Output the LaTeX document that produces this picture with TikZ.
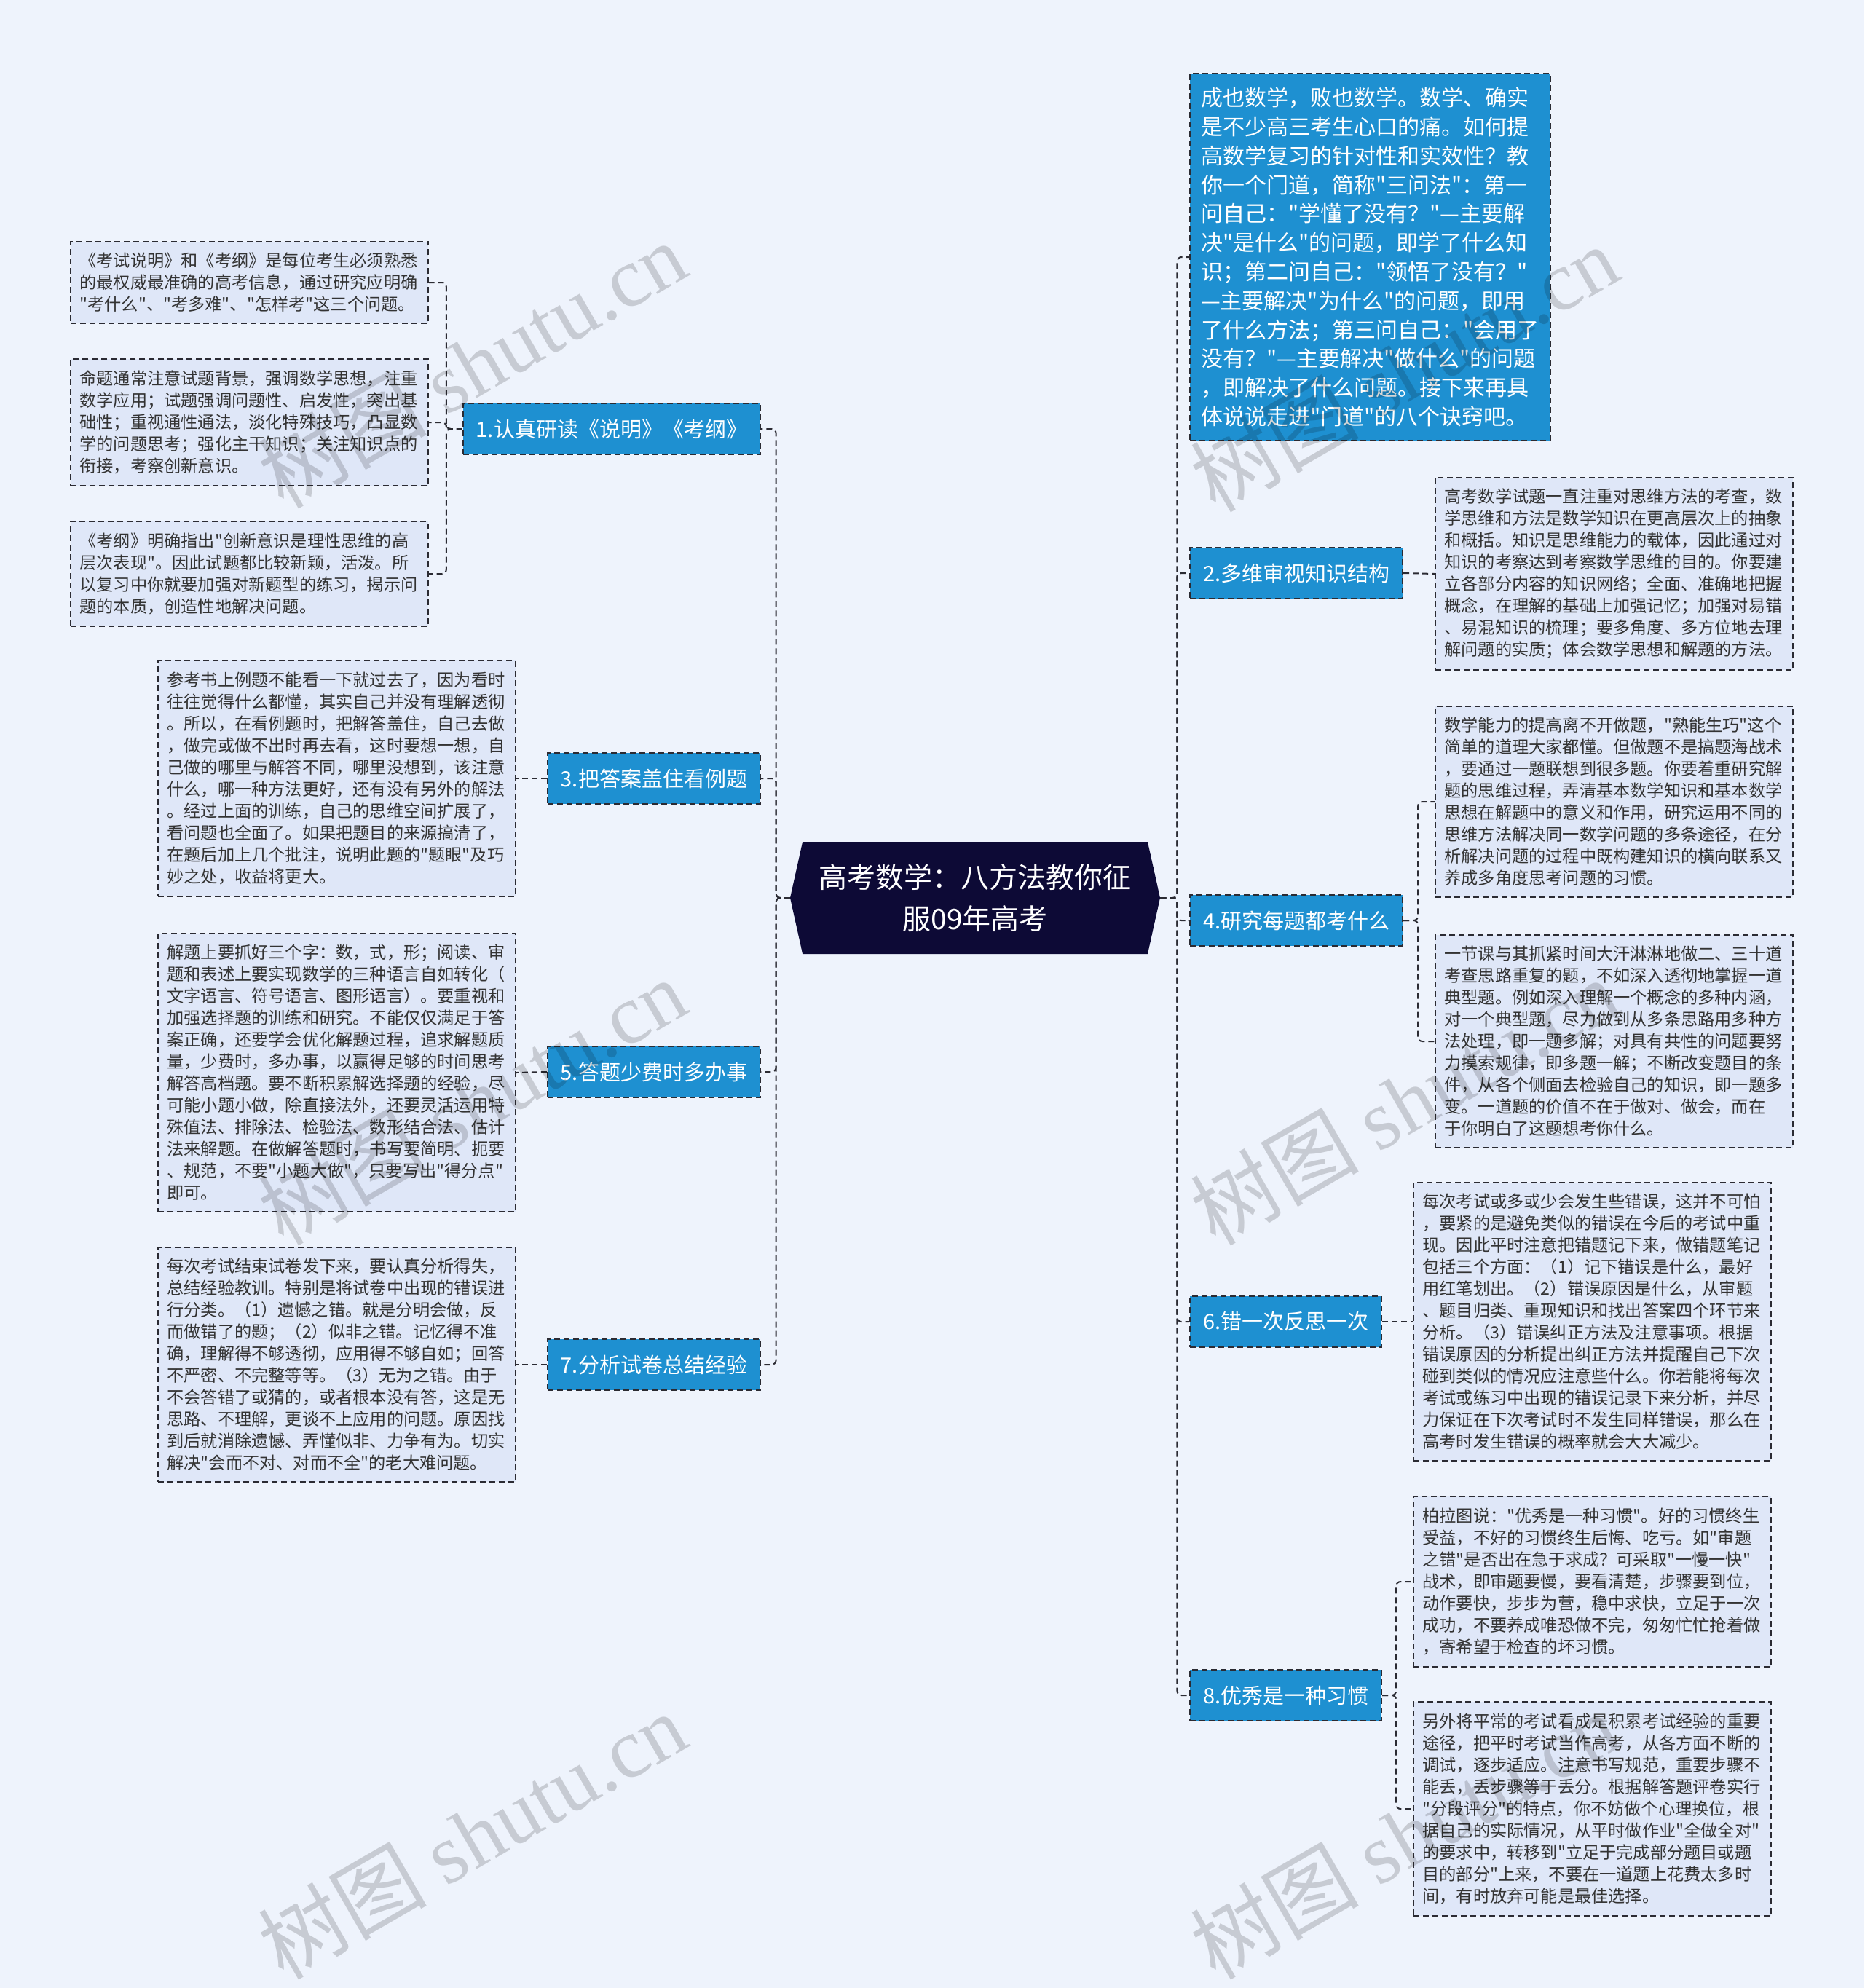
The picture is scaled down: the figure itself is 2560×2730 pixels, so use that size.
\documentclass[tikz,border=0pt]{standalone}
\usepackage{fontspec}
\newfontfamily\cjkfont{Noto Sans CJK SC}
\newfontfamily\wmlatin{Liberation Serif}
\usetikzlibrary{shapes.symbols}
\definecolor{bgpage}{HTML}{EEF3FC}
\definecolor{leaffill}{HTML}{DFE7F8}
\definecolor{branchblue}{HTML}{1E90D1}
\definecolor{rootnavy}{HTML}{0D0A36}
\definecolor{edgegray}{HTML}{2B2B33}

\begin{document}
\begin{tikzpicture}[x=0.5pt,y=-0.5pt,
		dashbox/.style={draw=edgegray,line width=1pt,dash pattern=on 4pt off 2.5pt},
		leaf/.style={dashbox,fill=leaffill,text=black!80,text width=233pt,inner xsep=6.25pt,inner ysep=7.75pt,align=left,font=\cjkfont\fontsize{11.6}{15}\selectfont},
		intro/.style={dashbox,fill=branchblue,text=white,text width=232.5pt,inner xsep=7.5pt,inner ysep=9.5pt,align=left,font=\cjkfont\fontsize{15}{19.9}\selectfont},
		branch/.style={dashbox,fill=branchblue,text=white,minimum height=35pt,inner xsep=9pt,inner ysep=0pt,font=\cjkfont\fontsize{14.5}{17}\selectfont},
		rootbox/.style={signal,signal to=east and west,signal pointer angle=155,fill=rootnavy,text=white,minimum width=254pt,minimum height=77pt,inner sep=0pt,align=center,font=\cjkfont\fontsize{19.5}{28.4}\selectfont},
		link/.style={draw=edgegray,line width=1pt,dash pattern=on 4pt off 2.5pt,rounded corners=3pt},
		wmtext/.style={rotate=30,text=black,opacity=0.16,font=\cjkfont\fontsize{58}{58}\selectfont}]
		\fill[bgpage] (0,0) rectangle (2560,2730);
		\useasboundingbox (0,0) rectangle (2560,2730);

		\node[rootbox] (root) at (1339,1233) {高考数学：八方法教你征\\服09年高考};

		\node[branch,anchor=east] (b1) at (1045,589) {1.认真研读《说明》《考纲》};
		\node[branch,anchor=east] (b3) at (1045,1069) {3.把答案盖住看例题};
		\node[branch,anchor=east] (b5) at (1045,1472) {5.答题少费时多办事};
		\node[branch,anchor=east] (b7) at (1045,1874) {7.分析试卷总结经验};

		\node[intro,anchor=west] (intro) at (1633,353) {成也数学，败也数学。数学、确实\\是不少高三考生心口的痛。如何提\\高数学复习的针对性和实效性？教\\你一个门道，简称"三问法"：第一\\问自己："学懂了没有？"—主要解\\决"是什么"的问题，即学了什么知\\识；第二问自己："领悟了没有？"\\—主要解决"为什么"的问题，即用\\了什么方法；第三问自己："会用了\\没有？"—主要解决"做什么"的问题\\，即解决了什么问题。接下来再具\\体说说走进"门道"的八个诀窍吧。};
		\node[branch,anchor=west] (b2) at (1633,787) {2.多维审视知识结构};
		\node[branch,anchor=west] (b4) at (1633,1264) {4.研究每题都考什么};
		\node[branch,anchor=west] (b6) at (1633,1815) {6.错一次反思一次};
		\node[branch,anchor=west] (b8) at (1633,2328) {8.优秀是一种习惯};

		\node[leaf,anchor=east] (l1a) at (589,388) {《考试说明》和《考纲》是每位考生必须熟悉\\的最权威最准确的高考信息，通过研究应明确\\"考什么"、"考多难"、"怎样考"这三个问题。};
		\node[leaf,anchor=east] (l1b) at (589,580) {命题通常注意试题背景，强调数学思想，注重\\数学应用；试题强调问题性、启发性，突出基\\础性；重视通性通法，淡化特殊技巧，凸显数\\学的问题思考；强化主干知识；关注知识点的\\衔接，考察创新意识。};
		\node[leaf,anchor=east] (l1c) at (589,788) {《考纲》明确指出"创新意识是理性思维的高\\层次表现"。因此试题都比较新颖，活泼。所\\以复习中你就要加强对新题型的练习，揭示问\\题的本质，创造性地解决问题。};
		\node[leaf,anchor=east] (l3) at (709,1069) {参考书上例题不能看一下就过去了，因为看时\\往往觉得什么都懂，其实自己并没有理解透彻\\。所以，在看例题时，把解答盖住，自己去做\\，做完或做不出时再去看，这时要想一想，自\\己做的哪里与解答不同，哪里没想到，该注意\\什么，哪一种方法更好，还有没有另外的解法\\。经过上面的训练，自己的思维空间扩展了，\\看问题也全面了。如果把题目的来源搞清了，\\在题后加上几个批注，说明此题的"题眼"及巧\\妙之处，收益将更大。};
		\node[leaf,anchor=east] (l5) at (709,1473) {解题上要抓好三个字：数，式，形；阅读、审\\题和表述上要实现数学的三种语言自如转化（\\文字语言、符号语言、图形语言）。要重视和\\加强选择题的训练和研究。不能仅仅满足于答\\案正确，还要学会优化解题过程，追求解题质\\量，少费时，多办事，以赢得足够的时间思考\\解答高档题。要不断积累解选择题的经验，尽\\可能小题小做，除直接法外，还要灵活运用特\\殊值法、排除法、检验法、数形结合法、估计\\法来解题。在做解答题时，书写要简明、扼要\\、规范，不要"小题大做"，只要写出"得分点"\\即可。};
		\node[leaf,anchor=east] (l7) at (709,1874) {每次考试结束试卷发下来，要认真分析得失，\\总结经验教训。特别是将试卷中出现的错误进\\行分类。（1）遗憾之错。就是分明会做，反\\而做错了的题；（2）似非之错。记忆得不准\\确，理解得不够透彻，应用得不够自如；回答\\不严密、不完整等等。（3）无为之错。由于\\不会答错了或猜的，或者根本没有答，这是无\\思路、不理解，更谈不上应用的问题。原因找\\到后就消除遗憾、弄懂似非、力争有为。切实\\解决"会而不对、对而不全"的老大难问题。};

		\node[leaf,anchor=west] (r2) at (1970,788) {高考数学试题一直注重对思维方法的考查，数\\学思维和方法是数学知识在更高层次上的抽象\\和概括。知识是思维能力的载体，因此通过对\\知识的考察达到考察数学思维的目的。你要建\\立各部分内容的知识网络；全面、准确地把握\\概念，在理解的基础上加强记忆；加强对易错\\、易混知识的梳理；要多角度、多方位地去理\\解问题的实质；体会数学思想和解题的方法。};
		\node[leaf,anchor=west] (r4a) at (1970,1101) {数学能力的提高离不开做题，"熟能生巧"这个\\简单的道理大家都懂。但做题不是搞题海战术\\，要通过一题联想到很多题。你要着重研究解\\题的思维过程，弄清基本数学知识和基本数学\\思想在解题中的意义和作用，研究运用不同的\\思维方法解决同一数学问题的多条途径，在分\\析解决问题的过程中既构建知识的横向联系又\\养成多角度思考问题的习惯。};
		\node[leaf,anchor=west] (r4b) at (1970,1430) {一节课与其抓紧时间大汗淋淋地做二、三十道\\考查思路重复的题，不如深入透彻地掌握一道\\典型题。例如深入理解一个概念的多种内涵，\\对一个典型题，尽力做到从多条思路用多种方\\法处理，即一题多解；对具有共性的问题要努\\力摸索规律，即多题一解；不断改变题目的条\\件，从各个侧面去检验自己的知识，即一题多\\变。一道题的价值不在于做对、做会，而在\\于你明白了这题想考你什么。};
		\node[leaf,anchor=west] (r6) at (1940,1815) {每次考试或多或少会发生些错误，这并不可怕\\，要紧的是避免类似的错误在今后的考试中重\\现。因此平时注意把错题记下来，做错题笔记\\包括三个方面：（1）记下错误是什么，最好\\用红笔划出。（2）错误原因是什么，从审题\\、题目归类、重现知识和找出答案四个环节来\\分析。（3）错误纠正方法及注意事项。根据\\错误原因的分析提出纠正方法并提醒自己下次\\碰到类似的情况应注意些什么。你若能将每次\\考试或练习中出现的错误记录下来分析，并尽\\力保证在下次考试时不发生同样错误，那么在\\高考时发生错误的概率就会大大减少。};
		\node[leaf,anchor=west] (r8a) at (1940,2172) {柏拉图说："优秀是一种习惯"。好的习惯终生\\受益，不好的习惯终生后悔、吃亏。如"审题\\之错"是否出在急于求成？可采取"一慢一快"\\战术，即审题要慢，要看清楚，步骤要到位，\\动作要快，步步为营，稳中求快，立足于一次\\成功，不要养成唯恐做不完，匆匆忙忙抢着做\\，寄希望于检查的坏习惯。};
		\node[leaf,anchor=west] (r8b) at (1940,2484) {另外将平常的考试看成是积累考试经验的重要\\途径，把平时考试当作高考，从各方面不断的\\调试，逐步适应。注意书写规范，重要步骤不\\能丢，丢步骤等于丢分。根据解答题评卷实行\\"分段评分"的特点，你不妨做个心理换位，根\\据自己的实际情况，从平时做作业"全做全对"\\的要求中，转移到"立足于完成部分题目或题\\目的部分"上来，不要在一道题上花费太多时\\间，有时放弃可能是最佳选择。};

		\draw[link] (root.west) -- ++(-19,0) |- (b1.east);
		\draw[link] (root.west) -- ++(-19,0) |- (b3.east);
		\draw[link] (root.west) -- ++(-19,0) |- (b5.east);
		\draw[link] (root.west) -- ++(-19,0) |- (b7.east);
		\draw[link] (root.east) -- ++(23,0) |- (intro.west);
		\draw[link] (root.east) -- ++(23,0) |- (b2.west);
		\draw[link] (root.east) -- ++(23,0) |- (b4.west);
		\draw[link] (root.east) -- ++(23,0) |- (b6.west);
		\draw[link] (root.east) -- ++(23,0) |- (b8.west);

		\draw[link] (b1.west) -- ++(-22,0) |- (l1a.east);
		\draw[link] (b1.west) -- ++(-22,0) |- (l1b.east);
		\draw[link] (b1.west) -- ++(-22,0) |- (l1c.east);
		\draw[link] (b3.west) -- (l3.east);
		\draw[link] (b5.west) -- (l5.east);
		\draw[link] (b7.west) -- (l7.east);
		\draw[link] (b2.east) -- (r2.west);
		\draw[link] (b4.east) -- ++(20,0) |- (r4a.west);
		\draw[link] (b4.east) -- ++(20,0) |- (r4b.west);
		\draw[link] (b6.east) -- (r6.west);
		\draw[link] (b8.east) -- ++(19,0) |- (r8a.west);
		\draw[link] (b8.east) -- ++(19,0) |- (r8b.west);

		\node[wmtext] (wm1) at (648,500) {树图 {\wmlatin shutu.cn}};
		\node[wmtext] (wm2) at (648,1512) {树图 {\wmlatin shutu.cn}};
		\node[wmtext] (wm3) at (648,2520) {树图 {\wmlatin shutu.cn}};
		\node[wmtext] (wm4) at (1928,505) {树图 {\wmlatin shutu.cn}};
		\node[wmtext] (wm5) at (1928,1512) {树图 {\wmlatin shutu.cn}};
		\node[wmtext] (wm6) at (1928,2520) {树图 {\wmlatin shutu.cn}};
\end{tikzpicture}
\end{document}
